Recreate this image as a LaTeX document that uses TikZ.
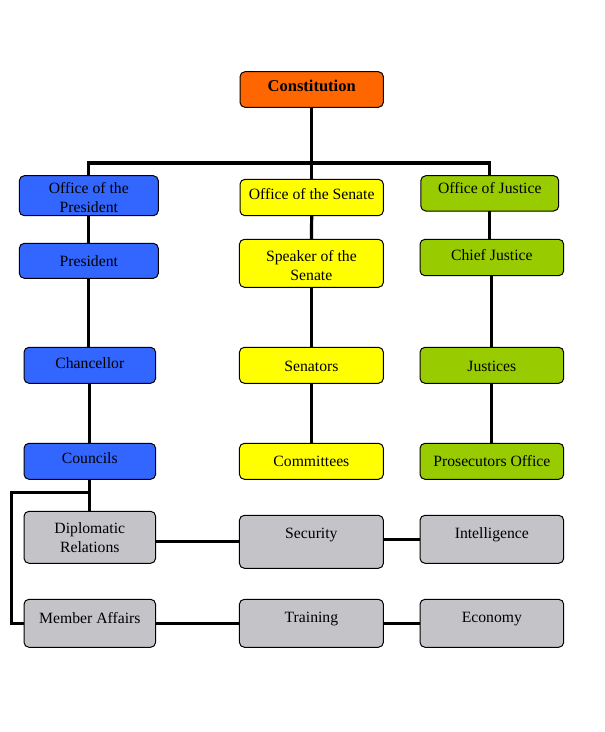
\documentclass[tikz,border=0pt]{standalone}
\usepackage{fontspec}
\setmainfont{Liberation Serif}
\usetikzlibrary{backgrounds}
\definecolor{cOrange}{HTML}{FF6600}
\definecolor{cBlue}{HTML}{3366FF}
\definecolor{cYellow}{HTML}{FFFF00}
\definecolor{cGreen}{HTML}{99CC00}
\definecolor{cGray}{RGB}{196,195,200}
% #1 name, #2 fill, #3 x1, #4 y1, #5 x2, #6 y2, #7 text centre y, #8 text
\newcommand\orgbox[8]{%
  \node[box, fill=#2, minimum width={#5-#3}, minimum height={#6-#4}]
    (#1) at ({(#3+#5)/2},{(#4+#6)/2}) {};
  \node[txt] (#1t) at ({(#3+#5)/2},#7) {\strut #8};
}
\begin{document}
\begin{tikzpicture}[x=1pt,y=-1pt,
  box/.style={draw=black, line width=1pt, rounded corners=5pt, inner sep=0pt, outer sep=0pt},
  txt/.style={inner sep=0pt, align=center, font=\fontsize{15.7}{19}\selectfont},
  link/.style={draw=black, line width=3.2pt, line join=miter}]
\useasboundingbox (0,0) rectangle (605,732);

% top
\orgbox{con}{cOrange}{240}{71.7}{383.4}{107.3}{88}{\fontsize{16.5}{19}\selectfont\bfseries Constitution}
% level 1
\orgbox{op}{cBlue}{19.3}{175.7}{158.3}{215.7}{199}{Office of the\\\strut President}
\orgbox{sen}{cYellow}{240}{179.3}{383.4}{215.7}{195.2}{Office of the Senate}
\orgbox{oj}{cGreen}{420.8}{175.7}{558.7}{211}{189.7}{Office of Justice}
% level 2
\orgbox{pres}{cBlue}{19.3}{243.3}{158.3}{278.3}{262.2}{President}
\orgbox{spk}{cYellow}{239.4}{239.3}{383.4}{287.3}{266.8}{Speaker of the\\\strut Senate}
\orgbox{cj}{cGreen}{420}{239.3}{563.7}{275.7}{256.4}{Chief Justice}
% level 3
\orgbox{chan}{cBlue}{24}{347.3}{155.6}{383.3}{364.2}{Chancellor}
\orgbox{sens}{cYellow}{239.4}{347.3}{383.4}{383.3}{367.2}{Senators}
\orgbox{jus}{cGreen}{420}{347.3}{563.7}{383.3}{367.2}{Justices}
% level 4
\orgbox{coun}{cBlue}{24}{443.3}{155.6}{479.3}{459.7}{Councils}
\orgbox{com}{cYellow}{239.4}{443.3}{383.4}{479.3}{463.1}{Committees}
\orgbox{pros}{cGreen}{420}{443.3}{563.7}{479.3}{463.1}{Prosecutors Office}
% grey rows
\orgbox{dip}{cGray}{24}{511.3}{155.6}{563.3}{538.8}{Diplomatic\\\strut Relations}
\orgbox{sec}{cGray}{239.4}{515.3}{383.4}{568.3}{535.1}{Security}
\orgbox{intel}{cGray}{420}{515.3}{563.7}{563.3}{534.7}{Intelligence}
\orgbox{ma}{cGray}{24}{599.3}{155.6}{647.3}{619.2}{Member Affairs}
\orgbox{tr}{cGray}{239.4}{599.3}{383.4}{647.3}{618.9}{Training}
\orgbox{eco}{cGray}{420}{599.3}{563.7}{647.3}{618.9}{Economy}

\coordinate (bar) at (311.7,163);
\coordinate (lpa) at (89.8,492.7);
\coordinate (lpb) at (11.7,623.3);

\begin{scope}[on background layer]
  \draw[link] (con.south) -- (sen.north);
  \draw[link] (op.north) |- (bar) -| (oj.north);
  % president column
  \draw[link] (op.south) -- (op.south |- pres.north);
  \draw[link] (pres.south) -- (pres.south |- chan.north);
  \draw[link] (chan.south) -- (chan.south |- coun.north);
  \draw[link] (coun.south) -- (coun.south |- dip.north);
  \draw[link] (lpa) -| (lpb) -- (lpb -| ma.west);
  % senate column
  \draw[link] (sen.south) -- (spk.north);
  \draw[link] (spk.south) -- (sens.north);
  \draw[link] (sens.south) -- (com.north);
  % justice column
  \draw[link] (oj.south) -- (oj.south |- cj.north);
  \draw[link] (cj.south) -- (jus.north);
  \draw[link] (jus.south) -- (pros.north);
  % grey links
  \draw[link] (sec.west) -- (sec.west -| dip.east);
  \draw[link] (intel.west) -- (intel.west -| sec.east);
  \draw[link] (ma.east) -- (tr.west);
  \draw[link] (tr.east) -- (eco.west);
\end{scope}
\end{tikzpicture}
\end{document}
